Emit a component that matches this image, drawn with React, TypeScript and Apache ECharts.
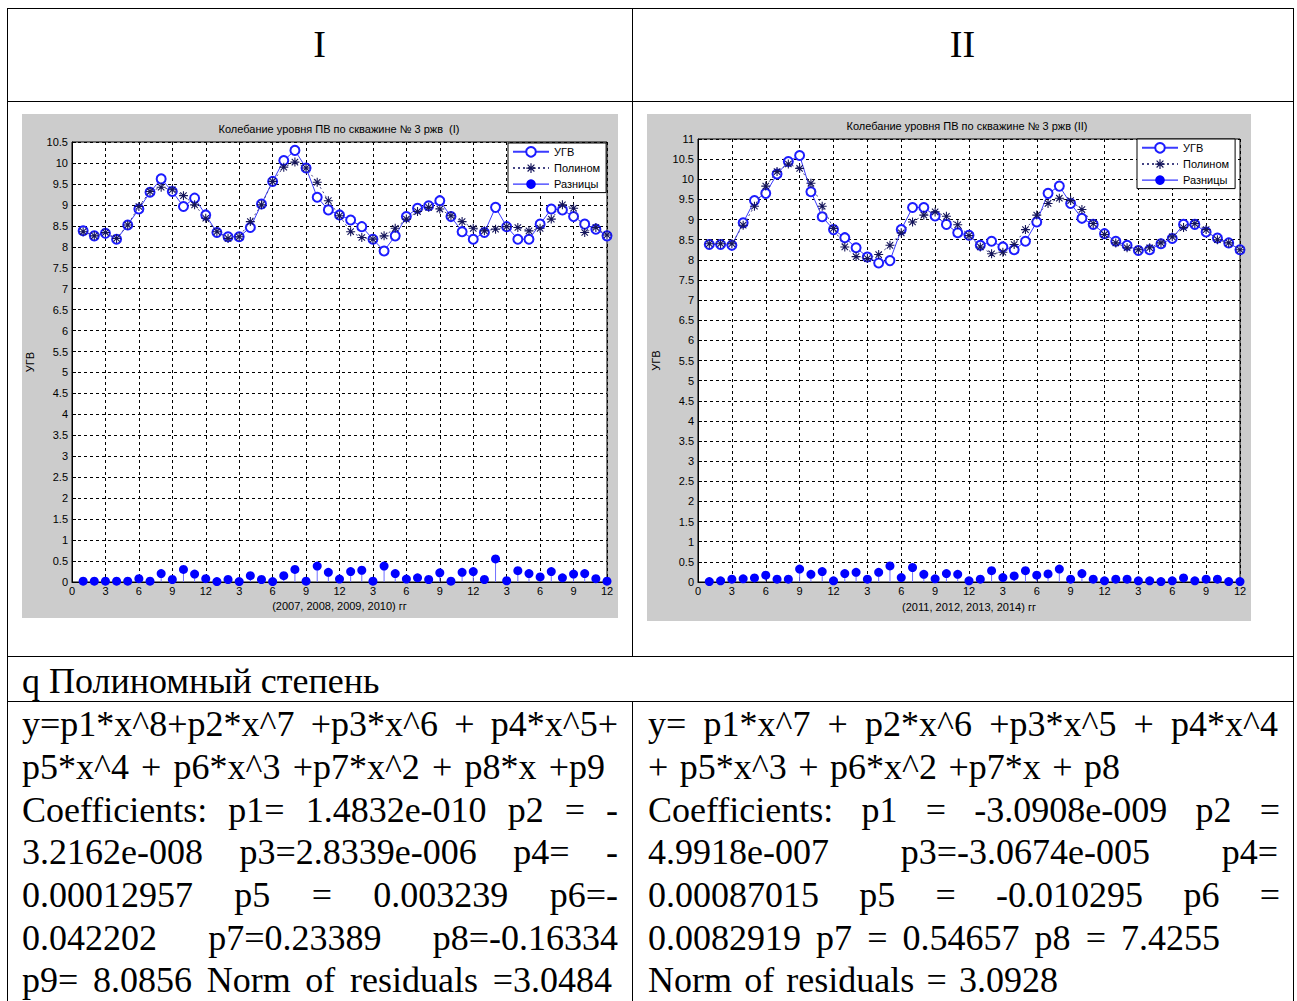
import React, { useEffect, useRef } from "react";
import * as echarts from "echarts";

// ---------- data ----------
const xPositions = [
  1, 2, 3, 4, 5, 6, 7, 8, 9, 10, 11, 12, 13, 14, 15, 16, 17, 18, 19, 20, 21, 22, 23, 24,
  25, 26, 27, 28, 29, 30, 31, 32, 33, 34, 35, 36, 37, 38, 39, 40, 41, 42, 43, 44, 45, 46, 47, 48,
];
const xTickLabels = ["0", "3", "6", "9", "12", "3", "6", "9", "12", "3", "6", "9", "12", "3", "6", "9", "12"];

const ugv1 = [
  8.38, 8.26, 8.32, 8.18, 8.52, 8.9, 9.3, 9.62, 9.32, 8.96, 9.16, 8.76,
  8.34, 8.24, 8.24, 8.46, 9.02, 9.56, 10.06, 10.3, 9.88, 9.18, 8.88, 8.76,
  8.64, 8.48, 8.18, 7.9, 8.26, 8.72, 8.92, 8.98, 9.1, 8.72, 8.36, 8.18,
  8.34, 8.94, 8.48, 8.18, 8.18, 8.54, 8.9, 8.88, 8.72, 8.54, 8.42, 8.26,
];
const poly1 = [
  8.36, 8.26, 8.34, 8.2, 8.52, 8.96, 9.32, 9.42, 9.36, 9.22, 9.0, 8.68,
  8.36, 8.2, 8.24, 8.6, 9.0, 9.56, 9.9, 10.02, 9.88, 9.54, 9.1, 8.74,
  8.36, 8.22, 8.18, 8.26, 8.44, 8.66, 8.84, 8.94, 8.9, 8.74, 8.6, 8.44,
  8.38, 8.42, 8.48, 8.46, 8.38, 8.44, 8.66, 9.0, 8.92, 8.34, 8.46, 8.28,
];
const res1 = [
  0.02, 0.02, 0.02, 0.02, 0.02, 0.08, 0.02, 0.2, 0.06, 0.3, 0.19, 0.08,
  0.01, 0.06, 0.01, 0.15, 0.06, 0.01, 0.15, 0.3, 0.02, 0.38, 0.23, 0.07,
  0.25, 0.28, 0.02, 0.38, 0.2, 0.07, 0.1, 0.06, 0.22, 0.02, 0.23, 0.25,
  0.06, 0.55, 0.03, 0.27, 0.2, 0.12, 0.25, 0.1, 0.19, 0.2, 0.08, 0.02,
];

const ugv2 = [
  8.38, 8.38, 8.36, 8.92, 9.47, 9.65, 10.13, 10.44, 10.59, 9.69, 9.07, 8.75,
  8.55, 8.3, 8.07, 7.92, 7.98, 8.75, 9.3, 9.3, 9.09, 8.88, 8.67, 8.61,
  8.36, 8.46, 8.32, 8.25, 8.46, 8.94, 9.65, 9.83, 9.4, 9.03, 8.88, 8.65,
  8.46, 8.36, 8.23, 8.25, 8.4, 8.53, 8.88, 8.88, 8.69, 8.54, 8.42, 8.25,
];
const poly2 = [
  8.4, 8.4, 8.4, 8.86, 9.33, 9.83, 10.19, 10.38, 10.27, 9.9, 9.33, 8.78,
  8.32, 8.08, 8.03, 8.13, 8.36, 8.67, 8.94, 9.11, 9.19, 9.08, 8.87, 8.6,
  8.32, 8.15, 8.19, 8.38, 8.75, 9.11, 9.4, 9.53, 9.47, 9.25, 8.9, 8.63,
  8.42, 8.3, 8.25, 8.3, 8.42, 8.57, 8.8, 8.9, 8.75, 8.5, 8.42, 8.25,
];
const res2 = [
  0.01, 0.03, 0.07, 0.08, 0.1, 0.17, 0.07, 0.07, 0.32, 0.19, 0.26, 0.03,
  0.21, 0.24, 0.07, 0.24, 0.4, 0.11, 0.36, 0.19, 0.08, 0.21, 0.19, 0.03,
  0.07, 0.28, 0.11, 0.15, 0.28, 0.17, 0.2, 0.32, 0.07, 0.21, 0.07, 0.03,
  0.07, 0.07, 0.03, 0.03, 0.01, 0.03, 0.1, 0.03, 0.07, 0.07, 0.01, 0.01,
];

const title1 = "Колебание уровня ПВ по скважине № 3 ржв  (I)";
const title2 = "Колебание уровня ПВ по скважине № 3 ржв (II)";
const xName1 = "(2007, 2008, 2009, 2010) гг";
const xName2 = "(2011, 2012, 2013, 2014) гг";
const yName = "УГВ";
const legendNames = ["УГВ", "Полином", "Разницы"];

const leftLines: [string, number][] = [
  ["y=p1*x^8+p2*x^7 +p3*x^6 + p4*x^5+", 596],
  ["p5*x^4 + p6*x^3 +p7*x^2 + p8*x +p9", 583],
  ["Coefficients:  p1= 1.4832e-010  p2 = -", 596],
  ["3.2162e-008  p3=2.8339e-006  p4= -", 596],
  ["0.00012957  p5  =  0.003239  p6=-", 596],
  ["0.042202  p7=0.23389  p8=-0.16334", 596],
  ["p9= 8.0856  Norm of residuals =3.0484", 590],
];
const rightLines: [string, number][] = [
  ["y= p1*x^7 + p2*x^6 +p3*x^5 + p4*x^4", 630],
  ["+ p5*x^3 + p6*x^2 +p7*x + p8", 472],
  ["Coefficients:  p1 = -3.0908e-009  p2 =", 632],
  ["4.9918e-007  p3=-3.0674e-005  p4=", 630],
  ["0.00087015  p5 = -0.010295  p6 =", 632],
  ["0.0082919  p7 = 0.54657  p8 = 7.4255", 572],
  ["Norm of residuals = 3.0928", 410],
];

// ---------- chart options ----------
const STAR =
  "path://M8.8 0L11.2 0L11.2 20L8.8 20ZM0 8.8L20 8.8L20 11.2L0 11.2ZM2.05 3.75L3.75 2.05L17.95 16.25L16.25 17.95ZM16.25 2.05L17.95 3.75L3.75 17.95L2.05 16.25Z";
const SANS = "'Liberation Sans', Arial, sans-serif";

type Cfg = {
  title: string;
  titleX: number;
  titleTop: number;
  xName: string;
  yMax: number;
  grid: { left: number; right: number; top: number; bottom: number };
  legendLeft: number;
  legendTop: number;
  yNameGap: number;
  xNameGap: number;
  ugv: number[];
  poly: number[];
  res: number[];
};

function buildOption(c: Cfg) {
  const pair = (arr: number[]) => arr.map((v, i) => [xPositions[i], v]);
  return {
    animation: false,
    backgroundColor: "#cccccc",
    textStyle: { fontFamily: SANS },
    title: {
      text: c.title,
      left: c.titleX,
      top: c.titleTop,
      textAlign: "center",
      padding: 0,
      textStyle: { fontSize: 11, fontWeight: "normal", color: "#000", fontFamily: SANS },
    },
    legend: {
      left: c.legendLeft,
      top: c.legendTop,
      orient: "vertical",
      backgroundColor: "#fff",
      borderColor: "#000",
      borderWidth: 1,
      borderRadius: 0,
      padding: [3, 6, 3, 4],
      itemGap: 5,
      itemWidth: 36,
      itemHeight: 12,
      selectedMode: false,
      textStyle: { fontSize: 11, color: "#000", fontFamily: SANS },
      data: [
        legendNames[0],
        legendNames[1],
        { name: legendNames[2], lineStyle: { opacity: 1, color: "#0000ff", width: 1, type: "solid" } },
      ],
    },
    grid: {
      ...c.grid,
      outerBoundsMode: "none",
      containLabel: false,
      show: true,
      backgroundColor: "#ffffff",
      borderColor: "#000",
      borderWidth: 1,
    },
    xAxis: {
      type: "value",
      min: 0,
      max: 48,
      interval: 3,
      name: c.xName,
      nameLocation: "middle",
      nameGap: c.xNameGap,
      nameTextStyle: { fontSize: 11, color: "#000", fontFamily: SANS },
      axisLine: { show: true, onZero: false, lineStyle: { color: "#000", width: 1 } },
      axisTick: { show: true, inside: true, length: 4, lineStyle: { color: "#000" } },
      axisLabel: {
        color: "#000",
        fontSize: 11,
        margin: 3,
        fontFamily: SANS,
        formatter: (v: number) => xTickLabels[Math.round(v / 3)] ?? "",
      },
      splitLine: { show: true, lineStyle: { color: "#000", width: 1, type: [3, 3] } },
    },
    yAxis: {
      type: "value",
      min: 0,
      max: c.yMax,
      interval: 0.5,
      name: yName,
      nameLocation: "middle",
      nameGap: c.yNameGap,
      nameRotate: 90,
      nameTextStyle: { fontSize: 11, color: "#000", fontFamily: SANS },
      axisLine: { show: true, lineStyle: { color: "#000", width: 1 } },
      axisTick: { show: true, inside: true, length: 4, lineStyle: { color: "#000" } },
      axisLabel: { color: "#000", fontSize: 11, margin: 4, fontFamily: SANS },
      splitLine: { show: true, lineStyle: { color: "#000", width: 1, type: [3, 3] } },
    },
    series: [
      {
        name: "stems",
        type: "bar",
        silent: true,
        barWidth: 1,
        data: pair(c.res),
        itemStyle: { color: "#7070ff" },
        z: 1,
      },
      {
        name: legendNames[0],
        type: "line",
        data: pair(c.ugv),
        symbol: "emptyCircle",
        symbolSize: 9,
        lineStyle: { color: "#3a3aff", width: 1 },
        itemStyle: { color: "#1c1cff", borderWidth: 1 },
        z: 2,
      },
      {
        name: legendNames[1],
        type: "line",
        data: pair(c.poly),
        symbol: STAR,
        symbolSize: 9,
        lineStyle: { color: "#454585", width: 1, type: [2, 3] },
        itemStyle: { color: "#14145a" },
        z: 3,
      },
      {
        name: legendNames[2],
        type: "line",
        data: pair(c.res),
        symbol: "circle",
        symbolSize: 9,
        lineStyle: { opacity: 0 },
        itemStyle: { color: "#0000ff" },
        z: 4,
      },
    ],
  };
}

const option1 = buildOption({
  title: title1,
  titleX: 317,
  titleTop: 9,
  xName: xName1,
  yMax: 10.5,
  grid: { left: 50, right: 11, top: 28, bottom: 36 },
  legendLeft: 486,
  legendTop: 29,
  yNameGap: 33,
  xNameGap: 17,
  ugv: ugv1,
  poly: poly1,
  res: res1,
});

const option2 = buildOption({
  title: title2,
  titleX: 320,
  titleTop: 6,
  xName: xName2,
  yMax: 11,
  grid: { left: 51, right: 11, top: 25, bottom: 39 },
  legendLeft: 490,
  legendTop: 25,
  yNameGap: 37,
  xNameGap: 19,
  ugv: ugv2,
  poly: poly2,
  res: res2,
});

// ---------- components ----------
function EChart({ option, style }: { option: any; style: React.CSSProperties }) {
  const ref = useRef<HTMLDivElement>(null);
  useEffect(() => {
    const chart = echarts.init(ref.current!, null, { renderer: "svg" });
    chart.setOption(option);
    return () => chart.dispose();
  }, [option]);
  return <div ref={ref} style={style} />;
}

const SERIF = "'Liberation Serif', 'Times New Roman', serif";

function JLine({ text, width, left, top }: { text: string; width: number; left: number; top: number }) {
  const tokens = text.split(/\s+/).filter((t) => t.length > 0);
  return (
    <div
      style={{
        position: "absolute",
        left,
        top,
        width,
        height: 42.7,
        display: "flex",
        justifyContent: tokens.length > 1 ? "space-between" : "flex-start",
        whiteSpace: "nowrap",
        fontSize: 36,
        lineHeight: "42.7px",
      }}
    >
      {tokens.map((t, i) => (
        <span key={i}>{t}</span>
      ))}
    </div>
  );
}

function HLine({ x, y, w }: { x: number; y: number; w: number }) {
  return <div style={{ position: "absolute", left: x, top: y, width: w, height: 1, background: "#000" }} />;
}
function VLine({ x, y, h }: { x: number; y: number; h: number }) {
  return <div style={{ position: "absolute", left: x, top: y, width: 1, height: h, background: "#000" }} />;
}

export default function App() {
  return (
    <div
      style={{
        position: "absolute",
        left: 0,
        top: 0,
        width: 1297,
        height: 1001,
        overflow: "hidden",
        background: "#fff",
        fontFamily: SERIF,
        color: "#000",
      }}
    >
      {/* table borders */}
      <HLine x={7} y={8} w={1287} />
      <HLine x={7} y={101} w={1287} />
      <HLine x={7} y={656} w={1287} />
      <HLine x={7} y={701} w={1287} />
      <VLine x={7} y={8} h={1000} />
      <VLine x={1293} y={8} h={1000} />
      <VLine x={632} y={8} h={648} />
      <VLine x={632} y={701} h={300} />

      {/* header row */}
      <div style={{ position: "absolute", left: 7, top: 25, width: 625, textAlign: "center", fontSize: 38, lineHeight: "38px" }}>I</div>
      <div style={{ position: "absolute", left: 632, top: 25, width: 661, textAlign: "center", fontSize: 38, lineHeight: "38px" }}>II</div>

      {/* charts */}
      <EChart option={option1} style={{ position: "absolute", left: 22, top: 114, width: 596, height: 504 }} />
      <EChart option={option2} style={{ position: "absolute", left: 647, top: 114, width: 604, height: 507 }} />

      {/* row 3 */}
      <div style={{ position: "absolute", left: 22, top: 660, fontSize: 36, lineHeight: "42.7px", whiteSpace: "nowrap" }}>
        q Полиномный степень
      </div>

      {/* row 4 */}
      {leftLines.map(([t, w], i) => (
        <JLine key={"l" + i} text={t} width={w} left={22} top={703.2 + i * 42.7} />
      ))}
      {rightLines.map(([t, w], i) => (
        <JLine key={"r" + i} text={t} width={w} left={648} top={703.2 + i * 42.7} />
      ))}
    </div>
  );
}
